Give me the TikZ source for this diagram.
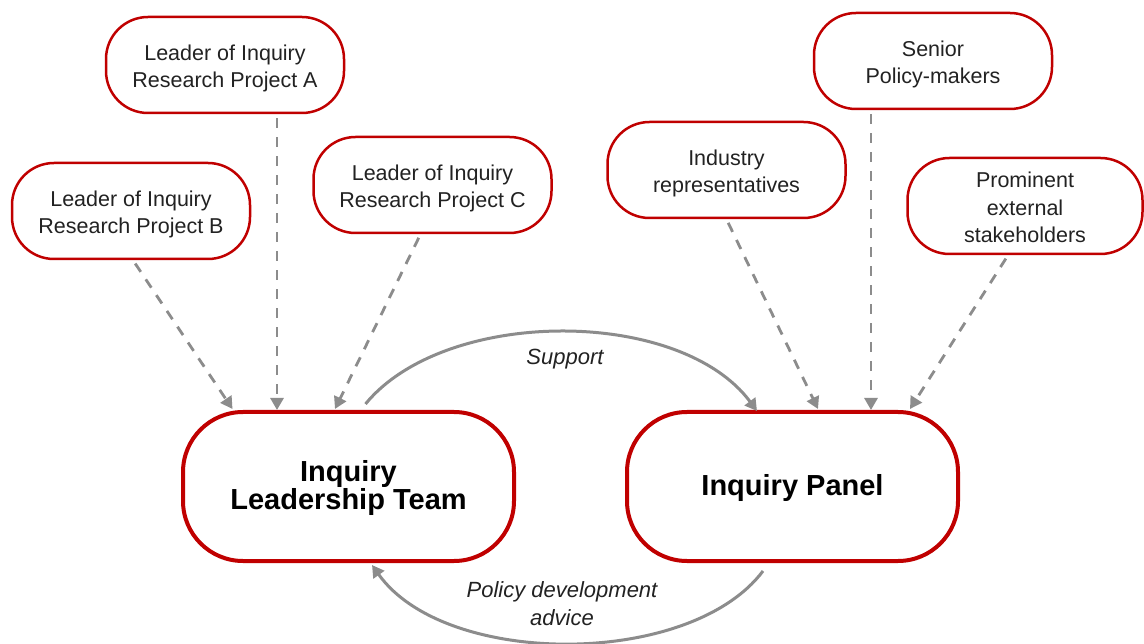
\documentclass[tikz,border=0pt]{standalone}
\usepackage{fontspec}
\setmainfont{Liberation Sans}
\usetikzlibrary{arrows.meta,calc}
\definecolor{boxred}{HTML}{C00000}
\definecolor{arrgray}{HTML}{8C8C8C}
\definecolor{txt}{HTML}{222222}
\newcommand\lowerA{\rule{0pt}{22pt}}
\newcommand\lowerB{\rule{0pt}{19pt}}
\newcommand\lowerC{\rule{0pt}{23.5pt}}
\begin{document}
\begin{tikzpicture}[x=1pt,y=-1pt,
  smallbox/.style={draw=boxred,line width=2.5pt,rounded corners=42pt,fill=white,
    minimum width=238pt,minimum height=96pt,inner sep=0pt,align=center,
    text=txt,font=\fontsize{21.5}{27.5}\selectfont},
  bigbox/.style={draw=boxred,line width=4pt,rounded corners=60pt,fill=white,
    minimum width=331pt,minimum height=149pt,inner sep=0pt,align=center,
    text=black,font=\fontsize{29}{27}\selectfont\bfseries},
  dasharrow/.style={draw=arrgray,line width=2.8pt,dash pattern=on 10pt off 9pt,
    -{Triangle[length=12pt,width=13pt]},shorten <=4pt},
  arcarrow/.style={draw=arrgray,line width=3pt,-{Triangle[length=12pt,width=13pt]}},
  lbl/.style={text=txt,font=\fontsize{22}{28}\selectfont\itshape,align=center}
]
\useasboundingbox (0,0) rectangle (1144,644);
\fill[white] (0,0) rectangle (1144,644);

\node[smallbox] (A) at (225,65) {\lowerA Leader of Inquiry\\Research Project A};
\node[smallbox] (B) at (131,211) {\lowerA Leader of Inquiry\\Research Project B};
\node[smallbox] (C) at (432.5,185) {\lowerA Leader of Inquiry\\Research Project C};
\node[smallbox] (I) at (726.5,170) {\lowerA Industry\\representatives};
\node[smallbox] (S) at (933,61) {\lowerA Senior\\Policy-makers};
\node[smallbox,minimum width=235pt] (P) at (1025,206) {\lowerB Prominent\\external\\stakeholders};

\node[bigbox] (L) at (348.5,486.5) {\lowerC Inquiry\\Leadership Team};
\node[bigbox] (N) at (792.5,486.5) {\lowerC Inquiry Panel};

\draw[dasharrow] ([xshift=52pt]A.south) -- ([xshift=-71.5pt]L.north);
\draw[dasharrow] ([xshift=2pt]B.south) -- ([xshift=-116pt,yshift=1pt]L.north);
\draw[dasharrow] ([xshift=-12pt]C.south) -- ([xshift=-13.5pt,yshift=1pt]L.north);
\draw[dasharrow] ([xshift=0pt]I.south) -- ([xshift=25.5pt,yshift=1pt]N.north);
\draw[dasharrow] ([xshift=-62pt]S.south) -- ([xshift=78.5pt]N.north);
\draw[dasharrow] ([xshift=-17pt]P.south) -- ([xshift=117.5pt,yshift=1pt]N.north);

\draw[arcarrow] ([xshift=17pt,yshift=6pt]L.north) .. controls (445,307) and (680,307) .. ([xshift=-35.5pt,yshift=-1pt]N.north);
\draw[arcarrow] ([xshift=-29.5pt,yshift=-8pt]N.south) .. controls (690,668) and (445,668) .. ([xshift=23.5pt,yshift=-2pt]L.south);

\node[lbl] (sup) at (565,359) {Support};
\node[lbl] (pol) at (562,604) {Policy development\\advice};
\end{tikzpicture}
\end{document}
